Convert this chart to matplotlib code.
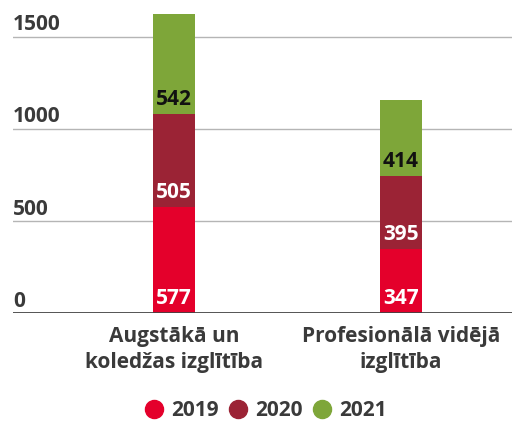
import numpy as np
import matplotlib.pyplot as plt
from matplotlib.lines import Line2D
from matplotlib.transforms import blended_transform_factory

plt.rcParams['font.family'] = ['Open Sans', 'DejaVu Sans']

# Data
categories = ['Augstākā un\nkoledžas izglītība', 'Profesionālā vidējā\nizglītība']
years = ['2019', '2020', '2021']
v2019 = [577, 347]
v2020 = [505, 395]
v2021 = [542, 414]
yticks = [0, 500, 1000, 1500]

colors = ['#e4002b', '#9b2335', '#7ea639']
label_colors = ['white', 'white', '#111111']
text_gray = '#3a3a3a'

fig = plt.figure(figsize=(5.12, 4.23), dpi=100)
ax = fig.add_axes([0.025, 0.26, 0.975, 0.74])

x = np.arange(len(categories))
bottom = np.zeros(len(categories))
for vals, c, lc in zip([v2019, v2020, v2021], colors, label_colors):
    ax.bar(x, vals, width=0.185, bottom=bottom, color=c, zorder=3)
    for xi, b, v in zip(x, bottom, vals):
        ax.text(xi, b + 80, str(v), ha='center', va='center', color=lc,
                fontsize=15, fontweight='bold', zorder=4)
    bottom += np.array(vals)

ax.set_xlim(-0.71, 1.49)
ax.set_ylim(0, 1700)

for s in ax.spines.values():
    s.set_visible(False)
ax.set_xticks([])
ax.set_yticks([])

# gridlines and y labels
trans = blended_transform_factory(ax.transAxes, ax.transData)
for t in yticks:
    if t == 0:
        ax.axhline(t, color='#444444', lw=2, zorder=5)
    else:
        ax.axhline(t, color='#b5b5b5', lw=1, zorder=1)
    ax.text(0, t + 35, str(t), transform=trans, ha='left', va='baseline',
            fontsize=15, fontweight='bold', color=text_gray)

# category labels
for xi, cat in zip(x, categories):
    ax.text(xi, -0.04, cat, transform=blended_transform_factory(ax.transData, ax.transAxes),
            ha='center', va='top', fontsize=15, fontweight='bold', color=text_gray,
            linespacing=1.35)

handles = [Line2D([], [], marker='o', linestyle='', markersize=13, color=c) for c in colors]
leg = fig.legend(handles, years, loc='center', bbox_to_anchor=(0.518, 0.03), ncol=3,
                 frameon=False, handletextpad=0.3, columnspacing=0.45, fontsize=15,
                 handlelength=1.0, borderpad=0.2)
for t in leg.get_texts():
    t.set_fontweight('bold')
    t.set_color(text_gray)

fig.savefig('out.png', dpi=100)
